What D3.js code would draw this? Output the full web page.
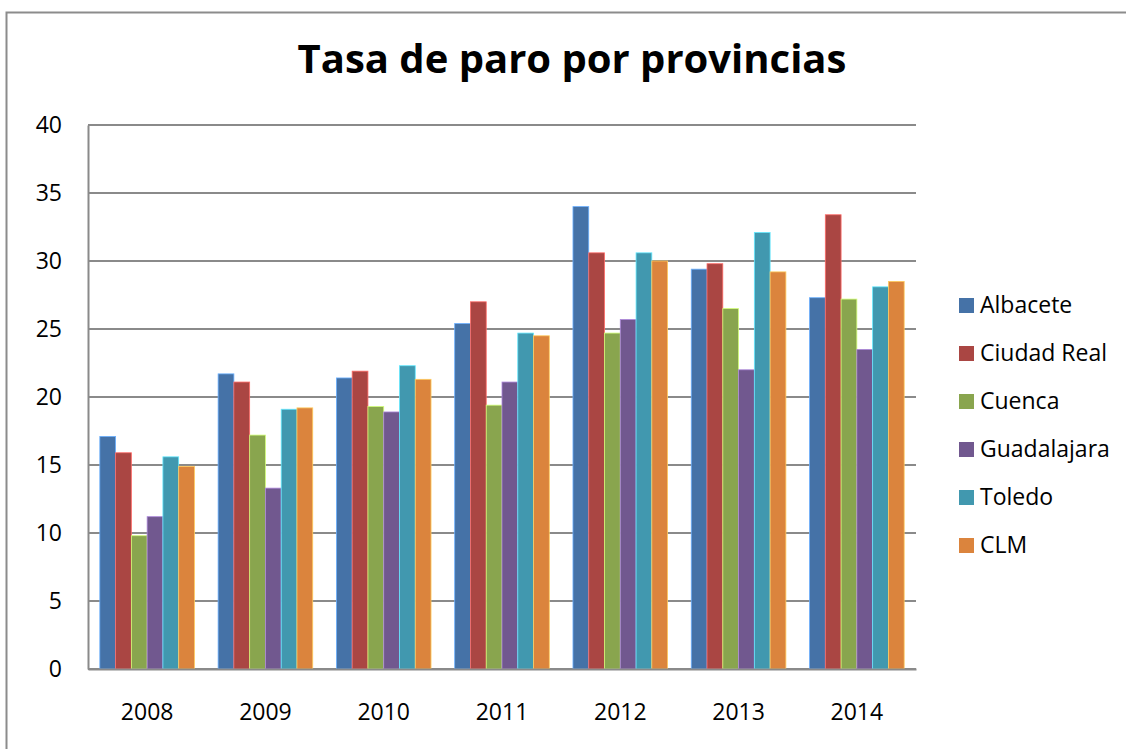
<!DOCTYPE html>
<html>
<head>
<meta charset="utf-8">
<script src="https://cdn.jsdelivr.net/npm/d3@7"></script>
<style>
  body { margin: 0; background: #fff; }
  svg text { font-family: "Open Sans", "Noto Sans", sans-serif; fill: #000; }
</style>
</head>
<body>
<div id="chart"></div>
<script>
// data
var years = ["2008", "2009", "2010", "2011", "2012", "2013", "2014"];
var provinces = ["Albacete", "Ciudad Real", "Cuenca", "Guadalajara", "Toledo", "CLM"];
var albacete   = [17.1, 21.7, 21.4, 25.4, 34.0, 29.4, 27.3];
var ciudadReal = [15.9, 21.1, 21.9, 27.0, 30.6, 29.8, 33.4];
var cuenca     = [9.8, 17.2, 19.3, 19.4, 24.7, 26.5, 27.2];
var guadalajara= [11.2, 13.3, 18.9, 21.1, 25.7, 22.0, 23.5];
var toledo     = [15.6, 19.1, 22.3, 24.7, 30.6, 32.1, 28.1];
var clm        = [14.9, 19.2, 21.3, 24.5, 30.0, 29.2, 28.5];
var yTicks = [0, 5, 10, 15, 20, 25, 30, 35, 40];
var colors = ["#4572A7", "#AA4643", "#89A54E", "#71588F", "#4198AF", "#DB843D"];

var series = [albacete, ciudadReal, cuenca, guadalajara, toledo, clm];

var W = 1126, H = 749;
var margin = {top: 125, right: 210, bottom: 80, left: 88},
    width = 916 - margin.left,
    height = 669 - margin.top;

var root = d3.select("#chart").append("svg")
    .attr("width", W).attr("height", H);

// outer frame
root.append("path")
    .attr("d", "M6.5," + H + "V12.5H" + W)
    .attr("fill", "none")
    .attr("stroke", "#8c8c8c")
    .attr("stroke-width", 2);

// title
root.append("text")
    .attr("x", 572)
    .attr("y", 73)
    .attr("text-anchor", "middle")
    .style("font-size", "40px")
    .style("font-weight", "bold")
    .text("Tasa de paro por provincias");

var svg = root.append("g")
    .attr("transform", "translate(" + margin.left + "," + margin.top + ")");

var x = d3.scaleBand()
    .domain(years)
    .range([0, width])
    .paddingInner(0.2)
    .paddingOuter(0.1);

var x1 = d3.scaleBand()
    .domain(provinces)
    .range([0, x.bandwidth()]);

var y = d3.scaleLinear()
    .domain([0, 40])
    .range([height, 0]);

// gridlines
svg.append("g")
    .selectAll("line")
    .data(yTicks)
    .enter()
    .append("line")
    .attr("x1", 0)
    .attr("x2", width)
    .attr("y1", function(d) { return y(d); })
    .attr("y2", function(d) { return y(d); })
    .attr("stroke", "#8a8a8a")
    .attr("stroke-width", 2);

// y axis
var yAxis = svg.append("g")
    .call(d3.axisLeft(y).tickValues(yTicks).tickSize(0).tickPadding(26));
yAxis.select(".domain").attr("stroke", "#8a8a8a").attr("stroke-width", 2);
yAxis.selectAll("text").style("font-size", "23px");

// bars
var groups = svg.selectAll("g.year")
    .data(years)
    .enter()
    .append("g")
    .attr("class", "year")
    .attr("transform", function(d) { return "translate(" + x(d) + ",0)"; });

groups.selectAll("rect")
    .data(function(d, i) {
        return provinces.map(function(p, j) { return {p: p, v: series[j][i], c: colors[j]}; });
    })
    .enter()
    .append("rect")
    .attr("x", function(d) { return x1(d.p); })
    .attr("width", x1.bandwidth())
    .attr("y", function(d) { return y(d.v); })
    .attr("height", function(d) { return height - y(d.v); })
    .attr("fill", function(d) { return d.c; })
    .attr("stroke", function(d) { return d3.color(d.c).brighter(1.2); })
    .attr("stroke-width", 0.8);

// x axis
var xAxis = svg.append("g")
    .attr("transform", "translate(0," + height + ")")
    .call(d3.axisBottom(x).tickSize(0).tickPadding(35));
xAxis.select(".domain").attr("stroke", "#8a8a8a").attr("stroke-width", 2);
xAxis.selectAll("text").style("font-size", "23px");

// legend
var legend = root.append("g")
    .selectAll("g")
    .data(provinces)
    .enter()
    .append("g")
    .attr("transform", function(d, i) { return "translate(959," + (305 + i * 48) + ")"; });

legend.append("rect")
    .attr("x", 0)
    .attr("y", -7)
    .attr("width", 15)
    .attr("height", 15)
    .attr("fill", function(d, i) { return colors[i]; });

legend.append("text")
    .attr("x", 21)
    .attr("y", 0)
    .attr("dy", "0.36em")
    .style("font-size", "23px")
    .text(function(d) { return d; });
</script>
</body>
</html>
